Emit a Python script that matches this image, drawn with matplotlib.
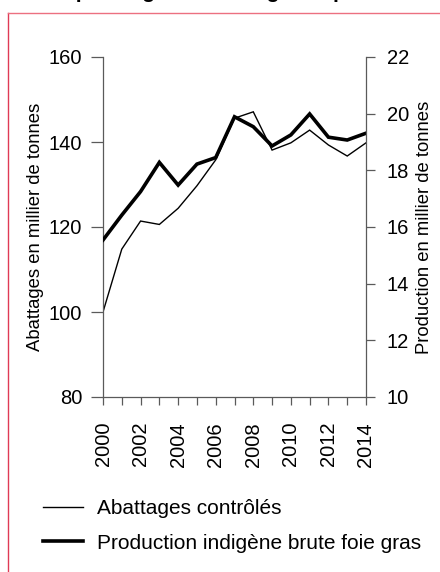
import numpy as np
import matplotlib.pyplot as plt
from matplotlib.lines import Line2D

# data
years = list(range(2000, 2015))
abattages = [100.0, 114.8, 121.4, 120.6, 124.4, 129.7, 135.8, 145.6,
             147.1, 138.1, 139.8, 142.8, 139.3, 136.7, 139.8]
production = [15.54, 16.42, 17.25, 18.28, 17.48, 18.22, 18.45, 19.89,
              19.54, 18.86, 19.25, 19.99, 19.17, 19.07, 19.31]
left_ticks = [80, 100, 120, 140, 160]
right_ticks = [10, 12, 14, 16, 18, 20, 22]
year_labels = [str(y) if y % 2 == 0 else '' for y in years]

label_thin = 'Abattages contrôlés'
label_thick = 'Production indigène brute foie gras'

plt.rcParams['font.family'] = ['Liberation Sans', 'DejaVu Sans']
axis_col = '#5a5a5a'

fig = plt.figure(figsize=(4.4, 5.72), dpi=100)
ax = fig.add_axes([103 / 440, 1 - 397 / 572, (366 - 103) / 440, (397 - 57) / 572])
ax2 = ax.twinx()

l1, = ax.plot(years, abattages, color='black', lw=1.0, solid_joinstyle='miter')
l2, = ax2.plot(years, production, color='black', lw=2.6, solid_joinstyle='miter')

ax.set_xlim(2000, 2014)
ax.set_ylim(80, 160)
ax2.set_ylim(10, 22)
ax.set_yticks(left_ticks)
ax2.set_yticks(right_ticks)
ax.set_xticks(years)
ax.set_xticklabels(year_labels, rotation=90)

for a in (ax, ax2):
    a.spines['top'].set_visible(False)
    for s in a.spines.values():
        s.set_color(axis_col)
        s.set_linewidth(0.9)
    a.patch.set_visible(False)

ax.spines['right'].set_visible(False)
ax2.spines['left'].set_visible(False)
ax2.spines['bottom'].set_visible(False)

ax.tick_params(axis='y', direction='out', length=8.6, width=0.9, color=axis_col,
               labelsize=14.5, pad=6.5)
ax.tick_params(axis='x', direction='out', length=6, width=0.9, color=axis_col,
               labelsize=14.5, pad=12)
ax2.tick_params(axis='y', direction='out', length=6.5, width=0.9, color=axis_col,
                labelsize=14.5, pad=8.6)

ax.set_ylabel('Abattages en millier de tonnes', fontsize=13.3, labelpad=3)
ax2.set_ylabel('Production en millier de tonnes', fontsize=13.3, labelpad=5)

fig.legend([l1, l2], [label_thin, label_thick], loc='upper left',
           bbox_to_anchor=(43 / 440, 1 - 499 / 572), frameon=False, fontsize=15,
           handlelength=1.9, handletextpad=0.7, labelspacing=0.75,
           borderaxespad=0, borderpad=0)

# cropped title and red frame of the original page
fig.text(20 / 440, 1 + 2 / 572, 'Palmipèdes gras : abattages et production',
         fontsize=15, fontweight='bold', va='baseline', ha='left')
frame = '#e03a55'
fig.add_artist(Line2D([8 / 440, 8 / 440], [0, 1 - 13 / 572],
                      transform=fig.transFigure, color=frame, lw=1.0))
fig.add_artist(Line2D([8 / 440, 1], [1 - 13 / 572, 1 - 13 / 572],
                      transform=fig.transFigure, color='#ec7080', lw=1.0))

fig.savefig('out.png', dpi=100)
